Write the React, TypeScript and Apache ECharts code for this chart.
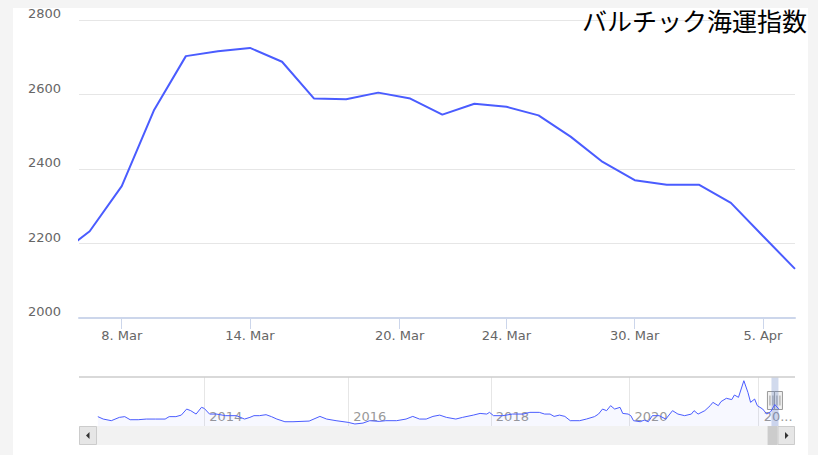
import React, { useEffect, useRef } from 'react';
import * as echarts from 'echarts';

// ---- Main chart data (Baltic Dry Index, daily trading days) ----
const tradeDates = [
  '2022-03-04', '2022-03-07', '2022-03-08', '2022-03-09', '2022-03-10', '2022-03-11',
  '2022-03-14', '2022-03-15', '2022-03-16', '2022-03-17', '2022-03-18',
  '2022-03-21', '2022-03-22', '2022-03-23', '2022-03-24', '2022-03-25',
  '2022-03-28', '2022-03-29', '2022-03-30', '2022-03-31', '2022-04-01',
  '2022-04-04', '2022-04-05', '2022-04-06',
];
const bdiValues = [
  2166, 2233, 2354, 2557, 2703, 2716,
  2725, 2688, 2589, 2587, 2605,
  2589, 2546, 2575, 2567, 2544,
  2487, 2419, 2370, 2358, 2358,
  2309, 2220, 2132,
];
const viewRange = ['2022-03-06', '2022-04-06'];
const tickDates = ['2022-03-08', '2022-03-14', '2022-03-20', '2022-03-24', '2022-03-30', '2022-04-05'];
const monthNames = ['Jan', 'Feb', 'Mar', 'Apr', 'May', 'Jun', 'Jul', 'Aug', 'Sep', 'Oct', 'Nov', 'Dec'];
const yTicks = { min: 2000, max: 2800, step: 200 };

// ---- Navigator data: [ordinal week index, BDI] ----
const navHistory: [number, number][] = [
  [0, 1200], [4, 900], [10, 700], [16, 1110], [20, 1200], [24, 820], [30, 820], [36, 900],
  [43, 900], [50, 900], [53, 1200], [58, 1200], [62, 1390], [66, 2140], [69, 1940], [73, 1520],
  [77, 2350], [79, 2230], [83, 1520], [88, 1520], [95, 1320], [103, 1320], [109, 900], [113, 1110],
  [116, 1320], [120, 1320], [125, 1440], [129, 1200], [133, 900], [139, 570], [145, 570], [157, 650],
  [165, 1230], [170, 900], [177, 700], [186, 490], [191, 290], [197, 400], [202, 700], [209, 610],
  [214, 700], [222, 700], [229, 900], [234, 1230], [239, 900], [244, 900], [249, 1230], [254, 1390],
  [259, 1110], [266, 900], [271, 1110], [279, 1390], [284, 1600], [289, 1520], [291, 1730], [294, 1320],
  [301, 1320], [308, 1520], [316, 1520], [321, 1730], [328, 1730], [332, 1520], [336, 1520], [339, 1230],
  [343, 1390], [347, 1230], [351, 700], [358, 700], [363, 900], [369, 1200], [372, 1520], [375, 2140],
  [378, 1940], [381, 2560], [384, 2140], [388, 2350], [390, 1600], [394, 1520], [396, 1320], [398, 700],
  [403, 570], [406, 770], [409, 570], [412, 1320], [417, 1320], [422, 900], [427, 1940], [431, 1520],
  [436, 1320], [441, 1520], [443, 1940], [446, 1520], [451, 1940], [455, 2560], [457, 2970], [461, 2560],
  [463, 3060], [467, 3470], [471, 3310], [473, 3880], [476, 3590], [480, 5650], [483, 4210], [485, 2970],
  [488, 3380], [490, 2560], [494, 2140], [497, 1520], [500, 1820], [503, 2700], [506, 2130],
];
const navRange = [-14, 518];
const navYearWeeks = [79, 186, 292, 395, 491];
const navYearLabels = ['2014', '2016', '2018', '2020', '2022'];
const navSelection = [500.5, 505.7];
const navYRange = [40, 6110];

const chartTitle = 'バルチック海運指数';

const FONT = '"DejaVu Sans", sans-serif';
const LINE = '#4a5cff';
const MAIN = { left: 79, top: 20, width: 716, height: 298 };
const NAV = { left: 79, top: 377, width: 716, height: 49 };
const SCROLL = { top: 426, height: 19, button: 17, minThumb: 10 };

const toMs = (s: string) => Date.parse(s + 'T00:00:00Z');
function ordinal(s: string): number {
  const t = toMs(s);
  const ts = tradeDates.map(toMs);
  if (t <= ts[0]) return 0;
  for (let i = 0; i < ts.length - 1; i++) {
    if (t <= ts[i + 1]) return i + (t - ts[i]) / (ts[i + 1] - ts[i]);
  }
  return ts.length - 1;
}
function fmtDate(s: string): string {
  const parts = s.split('-').map(Number);
  return `${parts[2]}. ${monthNames[parts[1] - 1]}`;
}

export default function App() {
  const ref = useRef<HTMLDivElement>(null);

  useEffect(() => {
    if (!ref.current) return;
    const chart = echarts.init(ref.current, undefined, { renderer: 'svg' });
    const tickPos = tickDates.map(ordinal);

    const option: any = {
      animation: false,
      backgroundColor: '#f4f4f4',
      textStyle: { fontFamily: FONT },
      grid: [
        { ...MAIN, outerBoundsMode: 'none' },
        { ...NAV, outerBoundsMode: 'none' },
      ],
      xAxis: [
        {
          type: 'value', gridIndex: 0,
          min: ordinal(viewRange[0]), max: ordinal(viewRange[1]),
          axisLine: { show: true, onZero: false, lineStyle: { color: '#ccd6eb', width: 2 } },
          axisTick: { show: true, customValues: tickPos, length: 11, lineStyle: { color: '#ccd6eb', width: 1 } },
          axisLabel: {
            customValues: tickPos,
            formatter: (v: number) => {
              const j = tickPos.findIndex((p) => Math.abs(p - v) < 1e-6);
              return j >= 0 ? fmtDate(tickDates[j]) : '';
            },
            color: '#666666', fontSize: 13, margin: 11, fontFamily: FONT,
          },
          splitLine: { show: false },
        },
        {
          type: 'value', gridIndex: 1,
          min: navRange[0], max: navRange[1],
          axisLine: { show: false },
          axisTick: { show: false, customValues: navYearWeeks },
          axisLabel: {
            customValues: navYearWeeks,
            inside: true, margin: 10, align: 'left', verticalAlign: 'middle',
            padding: [0, 0, 0, 5],
            color: '#999999', fontSize: 13, fontFamily: FONT,
            formatter: (v: number) => {
              const j = navYearWeeks.findIndex((p) => Math.abs(p - v) < 1e-6);
              if (j < 0) return '';
              return j === navYearLabels.length - 1 ? navYearLabels[j].slice(0, 2) + '...' : navYearLabels[j];
            },
          },
          splitLine: { show: true, lineStyle: { color: '#e6e6e6', width: 1 } },
        },
      ],
      yAxis: [
        {
          type: 'value', gridIndex: 0,
          min: yTicks.min, max: yTicks.max, interval: yTicks.step,
          axisLine: { show: false }, axisTick: { show: false },
          axisLabel: {
            color: '#666666', fontSize: 13, margin: 18, verticalAlign: 'bottom', fontFamily: FONT,
            formatter: (v: number) => String(v),
          },
          splitLine: { show: true, lineStyle: { color: '#e6e6e6', width: 1 } },
        },
        {
          type: 'value', gridIndex: 1, min: navYRange[0], max: navYRange[1],
          show: false, splitLine: { show: false },
        },
      ],
      series: [
        {
          type: 'line', xAxisIndex: 0, yAxisIndex: 0,
          data: tradeDates.map((d, i) => [ordinal(d), bdiValues[i]]),
          symbol: 'none', showSymbol: false, clip: true,
          lineStyle: { color: LINE, width: 2 }, itemStyle: { color: LINE },
        },
        {
          type: 'line', xAxisIndex: 1, yAxisIndex: 1,
          data: navHistory, symbol: 'none', showSymbol: false,
          lineStyle: { color: LINE, width: 1 }, itemStyle: { color: LINE },
          areaStyle: { color: 'rgba(74,92,255,0.06)' },
          markArea: {
            silent: true,
            itemStyle: { color: 'rgba(102,133,194,0.3)' },
            data: [[{ xAxis: navSelection[0] }, { xAxis: navSelection[1] }]],
          },
        },
      ],
    };
    chart.setOption(option);

    const px = (w: number) => chart.convertToPixel({ xAxisIndex: 1 } as any, w) as number;
    const selL = px(navSelection[0]);
    const selR = px(navSelection[1]);
    const dataMin = navHistory[0][0];
    const dataMax = navHistory[navHistory.length - 1][0];
    const trackL = NAV.left + SCROLL.button;
    const trackR = NAV.left + NAV.width - SCROLL.button;
    const trackW = trackR - trackL;
    let thumbR = trackL + ((navSelection[1] - dataMin) / (dataMax - dataMin)) * trackW;
    let thumbL = trackL + ((navSelection[0] - dataMin) / (dataMax - dataMin)) * trackW;
    thumbR = Math.min(thumbR, trackR);
    if (thumbR - thumbL < SCROLL.minThumb) thumbL = thumbR - SCROLL.minThumb;

    const sy = SCROLL.top;
    const sh = SCROLL.height;
    const scy = sy + sh / 2;
    const hcy = NAV.top + NAV.height / 2 - 1;
    const hh = 18;
    const hw = 8;
    const handle = (cx: number, id: string) => ({
      type: 'group', id, z: 20,
      children: [
        { type: 'rect', shape: { x: cx - hw / 2, y: hcy - hh / 2, width: hw, height: hh }, style: { fill: '#f2f2f2', stroke: '#999999', lineWidth: 1 } },
        { type: 'line', shape: { x1: cx - 1.5, y1: hcy - hh / 2 + 4, x2: cx - 1.5, y2: hcy + hh / 2 - 4 }, style: { stroke: '#999999', lineWidth: 1 } },
        { type: 'line', shape: { x1: cx + 1.5, y1: hcy - hh / 2 + 4, x2: cx + 1.5, y2: hcy + hh / 2 - 4 }, style: { stroke: '#999999', lineWidth: 1 } },
      ],
    });

    chart.setOption({
      graphic: [
        { type: 'rect', id: 'panel', z: -100, shape: { x: 13, y: 8, width: 795, height: 460 }, style: { fill: '#ffffff' } },
        {
          type: 'text', id: 'title', x: 807, y: 19.5, z: 10,
          style: {
            text: chartTitle, fill: '#000000', font: '25px "Noto Sans CJK JP"',
            align: 'right', verticalAlign: 'middle', textAlign: 'right', textVerticalAlign: 'middle',
          },
        },
        { type: 'line', id: 'navTop', z: 5, shape: { x1: NAV.left, y1: NAV.top, x2: NAV.left + NAV.width, y2: NAV.top }, style: { stroke: '#cccccc', lineWidth: 1.5 } },
        { type: 'rect', id: 'track', z: 5, shape: { x: NAV.left, y: sy, width: NAV.width, height: sh }, style: { fill: '#f2f2f2' } },
        { type: 'rect', id: 'btnL', z: 6, shape: { x: NAV.left + 0.5, y: sy + 0.5, width: SCROLL.button, height: sh - 1 }, style: { fill: '#e6e6e6', stroke: '#cccccc', lineWidth: 1 } },
        { type: 'polygon', id: 'arrL', z: 7, shape: { points: [[NAV.left + 7, scy], [NAV.left + 10.5, scy - 3.5], [NAV.left + 10.5, scy + 3.5]] }, style: { fill: '#333333' } },
        { type: 'rect', id: 'thumb', z: 6, shape: { x: thumbL, y: sy, width: thumbR - thumbL, height: sh }, style: { fill: '#cccccc' } },
        { type: 'rect', id: 'btnR', z: 6, shape: { x: trackR, y: sy + 0.5, width: SCROLL.button - 0.5, height: sh - 1 }, style: { fill: '#e6e6e6', stroke: '#cccccc', lineWidth: 1 } },
        { type: 'polygon', id: 'arrR', z: 7, shape: { points: [[trackR + 10.5, scy], [trackR + 7, scy - 3.5], [trackR + 7, scy + 3.5]] }, style: { fill: '#333333' } },
        handle(selL, 'hL'),
        handle(selR, 'hR'),
      ],
    });

    return () => chart.dispose();
  }, []);

  return <div ref={ref} style={{ position: 'absolute', left: 0, top: 0, width: 818, height: 455 }} />;
}
